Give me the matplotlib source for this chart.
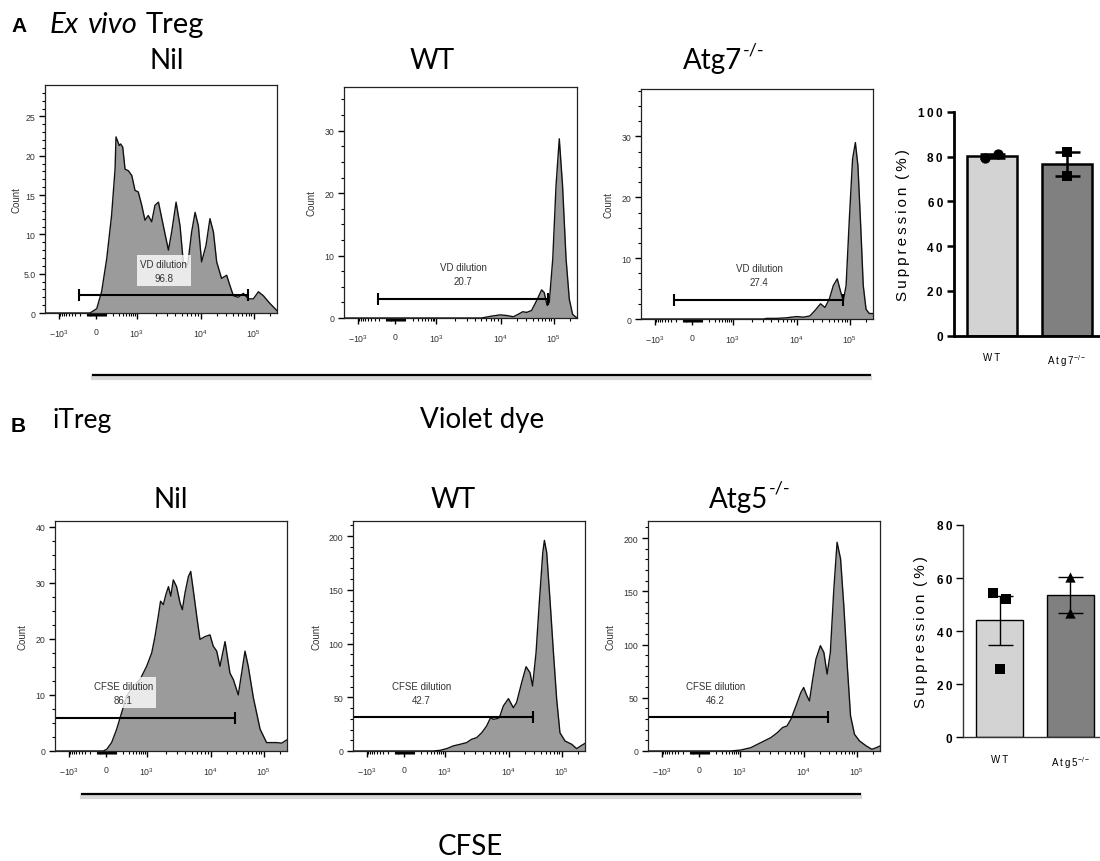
import numpy as np
import matplotlib.pyplot as plt
from matplotlib.lines import Line2D

plt.rcParams['font.family'] = ['Liberation Sans', 'DejaVu Sans']
plt.rcParams['mathtext.fontset'] = 'custom'
plt.rcParams['mathtext.rm'] = 'Liberation Sans'
plt.rcParams['mathtext.default'] = 'regular'

# ---- histogram traces: x = position along the logicle axis (0..1), y = count ----
a_nil_x = [0.0, 0.194, 0.223, 0.244, 0.266, 0.287, 0.302, 0.306, 0.320, 0.326, 0.335, 0.345, 0.359,
           0.374, 0.388, 0.402, 0.417, 0.431, 0.445, 0.460, 0.474, 0.489, 0.510, 0.532, 0.546, 0.565,
           0.582, 0.596, 0.615, 0.632, 0.647, 0.661, 0.675, 0.694, 0.711, 0.726, 0.740, 0.761, 0.783,
           0.797, 0.812, 0.833, 0.855, 0.876, 0.898, 0.920, 0.941, 0.970, 1.0]
a_nil_y = [0.0, 0.0, 0.55, 2.7, 6.9, 12.4, 18.3, 22.4, 21.3, 21.5, 21.1, 18.3, 18.1,
           17.5, 15.6, 15.4, 13.7, 11.8, 12.4, 11.6, 13.7, 14.1, 11.1, 8.0, 10.3, 14.1,
           11.1, 6.5, 6.1, 10.3, 12.8, 11.1, 6.5, 8.6, 12.0, 10.3, 6.5, 4.4, 4.8,
           3.5, 2.2, 2.0, 2.5, 1.8, 1.8, 2.7, 2.2, 1.2, 0.3]

a_wt_x = [0.0, 0.590, 0.605, 0.634, 0.670, 0.698, 0.727, 0.748, 0.767, 0.784, 0.805, 0.827, 0.848,
          0.859, 0.872, 0.881, 0.896, 0.910, 0.924, 0.938, 0.953, 0.967, 0.981, 0.996, 1.0]
a_wt_y = [0.0, 0.0, 0.1, 0.3, 0.5, 0.4, 0.2, 0.6, 1.0, 0.9, 1.2, 2.8, 4.5,
          4.1, 2.0, 2.5, 9.5, 21.2, 28.7, 21.2, 9.5, 3.0, 0.6, 0.1, 0.1]

a_ko_x = [0.0, 0.527, 0.542, 0.585, 0.628, 0.671, 0.700, 0.728, 0.750, 0.774, 0.793, 0.812, 0.829,
          0.846, 0.861, 0.872, 0.884, 0.898, 0.912, 0.924, 0.935, 0.947, 0.958, 0.970, 0.984, 1.0]
a_ko_y = [0.0, 0.0, 0.1, 0.1, 0.2, 0.4, 0.3, 0.5, 1.4, 2.5, 1.9, 3.3, 5.5,
          6.6, 4.4, 3.0, 5.5, 16.4, 26.3, 29.0, 25.2, 15.3, 5.5, 1.6, 0.9, 0.9]

b_nil_x = [0.0, 0.208, 0.223, 0.244, 0.266, 0.287, 0.309, 0.338, 0.366, 0.395, 0.417, 0.431, 0.445,
           0.455, 0.467, 0.478, 0.489, 0.499, 0.510, 0.524, 0.539, 0.549, 0.560, 0.575, 0.585, 0.596,
           0.611, 0.625, 0.647, 0.668, 0.682, 0.697, 0.711, 0.733, 0.754, 0.769, 0.790, 0.819, 0.833,
           0.855, 0.884, 0.912, 0.955, 0.977, 1.0]
b_nil_y = [0.0, 0.0, 0.3, 1.5, 3.9, 6.8, 9.8, 11.6, 12.7, 15.1, 17.5, 20.4, 24.0,
           26.7, 26.1, 27.9, 29.3, 27.6, 30.5, 29.3, 26.4, 25.2, 28.1, 31.1, 32.0, 28.7,
           24.0, 19.9, 20.4, 20.7, 18.7, 17.8, 15.1, 19.5, 13.9, 12.7, 10.0, 17.8, 15.1,
           9.5, 3.9, 1.5, 1.5, 1.4, 2.0]

b_wt_x = [0.0, 0.346, 0.375, 0.404, 0.432, 0.461, 0.490, 0.511, 0.533, 0.555, 0.576, 0.593, 0.605,
          0.619, 0.631, 0.648, 0.670, 0.691, 0.705, 0.727, 0.746, 0.763, 0.774, 0.789, 0.803, 0.818,
          0.825, 0.835, 0.849, 0.864, 0.878, 0.892, 0.914, 0.943, 0.964, 0.986, 1.0]
b_wt_y = [0.0, 0.0, 0.6, 2.2, 4.7, 6.2, 7.8, 10.9, 12.4, 17.0, 23.3, 31.0, 29.5,
          30.0, 31.0, 41.9, 48.7, 40.3, 45.0, 63.6, 78.4, 72.9, 60.5, 91.5, 138.0, 184.5,
          196.0, 184.5, 141.0, 91.5, 48.0, 17.0, 9.3, 6.2, 2.2, 5.3, 7.1]

b_ko_x = [0.0, 0.356, 0.400, 0.443, 0.486, 0.530, 0.558, 0.580, 0.599, 0.616, 0.638, 0.659, 0.671,
          0.685, 0.696, 0.710, 0.724, 0.743, 0.758, 0.772, 0.786, 0.801, 0.815, 0.830, 0.844, 0.859,
          0.873, 0.890, 0.912, 0.941, 0.965, 0.984, 1.0]
b_ko_y = [0.0, 0.0, 0.9, 3.1, 7.8, 12.6, 17.3, 22.0, 23.5, 29.8, 42.4, 55.0, 59.6,
          51.8, 47.0, 67.5, 86.3, 98.9, 92.6, 72.2, 92.6, 152.0, 196.0, 180.5, 136.5, 80.0,
          33.0, 15.7, 9.4, 4.7, 1.6, 3.1, 4.7]

# gate percentages
a_gates = ["96.8", "20.7", "27.4"]
b_gates = ["86.1", "42.7", "46.2"]

# suppression data (%)
a_wt_pts = [79.3, 81.0]
a_ko_pts = [82.0, 71.5]
b_wt_pts = [54.3, 52.2, 25.6]
b_ko_pts = [60.3, 46.7]

xtick_pos = [0.06, 0.22, 0.395, 0.672, 0.90]
xtick_lab = ['$-10^3$', '0', '$10^3$', '$10^4$', '$10^5$']


def spaced(s):
    return '\u2009'.join(s)


def minor_x():
    pos = []
    for v in list(range(10, 100, 10)) + list(range(100, 1000, 100)):
        f = np.arcsinh(v / 150) / np.arcsinh(1000 / 150)
        pos.append(0.22 + 0.175 * f)
        pos.append(0.22 - 0.16 * f)
    for k in range(2, 10):
        pos.append(0.395 + 0.277 * np.log10(k))
        pos.append(0.672 + 0.228 * np.log10(k))
        p = 0.90 + 0.228 * np.log10(k)
        if p < 1:
            pos.append(p)
    return pos


fig = plt.figure(figsize=(11, 8.62), dpi=100)


def px_rect(x0, y0, x1, y1):
    return [x0 / 1100, 1 - y1 / 862, (x1 - x0) / 1100, (y1 - y0) / 862]


def flow(rect, xs, ys, ymax, ymaj, ystep, ylab, gate, gtxt, tpos, name, count_off):
    ax = fig.add_axes(rect)
    ax.fill_between(xs, ys, color='#9b9b9b', lw=0)
    ax.plot(xs, ys, color='#111111', lw=1.0)
    ax.set_xlim(0, 1)
    ax.set_ylim(0, ymax)
    ax.set_xticks(xtick_pos)
    ax.set_xticklabels(xtick_lab)
    ax.set_xticks(minor_x(), minor=True)
    ax.set_yticks(ymaj)
    ax.set_yticklabels(ylab)
    ax.set_yticks(np.arange(0, ymax, ystep), minor=True)
    ax.tick_params(axis='both', which='major', length=4, width=1.0, labelsize=6.3,
                   labelcolor='#333333', pad=3)
    ax.tick_params(axis='both', which='minor', length=2.5, width=0.8)
    ax.tick_params(axis='x', which='major', pad=6)
    for s in ax.spines.values():
        s.set_linewidth(0.9)
        s.set_color('#222222')
    ax.text(-count_off / 232, 0.5, 'Count', rotation=90, transform=ax.transAxes,
            ha='center', va='center', fontsize=7, color='#333333')
    g0, g1, gy = gate
    ax.plot([g0, g1], [gy, gy], color='k', lw=1.5, solid_capstyle='butt')
    ax.plot([g0, g1], [gy, gy], ls='none', marker='|', ms=8, mew=1.5, color='k')
    ax.text(tpos[0], tpos[1], f"{name} dilution\n{gtxt}", ha='center', va='center',
            fontsize=7, color='#333333', linespacing=1.5,
            bbox=dict(fc='white', alpha=0.8, ec='none', pad=2.5))
    return ax


# ---- Panel A histograms ----
flow(px_rect(45, 86, 277, 314), a_nil_x, a_nil_y, 29, [0, 5, 10, 15, 20, 25],
     1, ['0', '5.0', '10', '15', '20', '25'], (0.147, 0.874, 2.3), a_gates[0], (0.512, 5.4), 'VD', 28)
flow(px_rect(344, 88, 577, 319), a_wt_x, a_wt_y, 37, [0, 10, 20, 30],
     2.5, ['0', '10', '20', '30'], (0.147, 0.877, 3.0), a_gates[1], (0.512, 7.0), 'VD', 32)
flow(px_rect(641, 90, 873, 320), a_ko_x, a_ko_y, 37.8, [0, 10, 20, 30],
     2.5, ['0', '10', '20', '30'], (0.144, 0.872, 3.2), a_gates[2], (0.509, 7.2), 'VD', 32)

# ---- Panel B histograms ----
flow(px_rect(55, 522, 287, 752), b_nil_x, b_nil_y, 41, [0, 10, 20, 30, 40],
     2.5, ['0', '10', '20', '30', '40'], (-0.05, 0.776, 5.9), b_gates[0], (0.294, 10.4), 'CFSE', 33)
flow(px_rect(353, 522, 585, 752), b_wt_x, b_wt_y, 214, [0, 50, 100, 150, 200],
     10, ['0', '50', '100', '150', '200'], (-0.05, 0.775, 31.6), b_gates[1], (0.296, 54), 'CFSE', 36)
flow(px_rect(648, 522, 880, 752), b_ko_x, b_ko_y, 216, [0, 50, 100, 150, 200],
     10, ['0', '50', '100', '150', '200'], (-0.05, 0.775, 32), b_gates[2], (0.291, 54.5), 'CFSE', 37)


# ---- bar charts ----
def bars(rect, wt, ko, ymax, yt, xlim, marks, jit, ko_name, heavy):
    ax = fig.add_axes(rect)
    means = [np.mean(wt), np.mean(ko)]
    sems = [np.std(wt, ddof=1) / np.sqrt(len(wt)), np.std(ko, ddof=1) / np.sqrt(len(ko))]
    lw = 1.8 if heavy else 1.0
    ax.bar([0, 1], means, width=0.67, color=['#d3d3d3', '#808080'], edgecolor='k',
           linewidth=lw, zorder=1)
    ax.errorbar([0, 1], means, yerr=sems, fmt='none', ecolor='k', elinewidth=lw,
                capsize=9, capthick=lw, zorder=2)
    ax.scatter(np.array(jit[0]), wt, marker=marks[0], s=55, color='k', zorder=3, lw=0)
    ax.scatter(np.array(jit[1]), ko, marker=marks[1], s=55, color='k', zorder=3, lw=0)
    ax.set_xlim(*xlim)
    ax.set_ylim(0, ymax)
    ax.set_yticks(yt)
    ax.set_yticklabels([spaced(str(v)) for v in yt], fontweight='bold', fontsize=8.5)
    ax.set_xticks([0, 1])
    ax.set_xticklabels([spaced('WT'), spaced('Atg') + '\u2009' + ko_name + '$^{-/-}$'], fontsize=7)
    ax.tick_params(axis='x', length=0, pad=12)
    ax.tick_params(axis='y', length=5, width=lw, pad=3)
    for s in ['top', 'right']:
        ax.spines[s].set_visible(False)
    for s in ['left', 'bottom']:
        ax.spines[s].set_linewidth(2.0 if heavy else 1.0)
        ax.spines[s].set_color('k' if heavy else '#333333')
    ax.set_ylabel(spaced('Suppression') + '\u2002' + spaced('(%)'), fontsize=11, labelpad=6)
    return ax


bars(px_rect(954, 112.7, 1100, 336.7), a_wt_pts, a_ko_pts, 100, [0, 20, 40, 60, 80, 100],
     (-0.504, 1.443), ('o', 's'), ([-0.09, 0.083], [1, 1]), '7', True)
bars(px_rect(963.3, 526, 1100, 738.3), b_wt_pts, b_ko_pts, 80, [0, 20, 40, 60, 80],
     (-0.511, 1.418), ('s', '^'), ([-0.096, 0.087, 0.0], [1, 1]), '5', False)


# ---- figure text ----
def ft(x, y, s, **kw):
    fig.text(x / 1100, 1 - y / 862, s, **kw)


title_font = ['Lato', 'DejaVu Sans']
ft(11, 32, 'A', fontsize=15, fontweight='bold', va='baseline')
ft(50, 33, 'Ex', fontsize=21, style='italic', family=title_font, va='baseline')
ft(88, 33, 'vivo', fontsize=21, style='italic', family=title_font, va='baseline')
ft(146, 33, 'Treg', fontsize=21, family=title_font, va='baseline')
ft(11, 432, 'B', fontsize=15, fontweight='bold', va='baseline')
ft(52, 428, 'iTreg', fontsize=19, family=title_font, va='baseline')

ft(167, 69, 'Nil', fontsize=20, family=title_font, ha='center', va='baseline')
ft(432, 69, 'WT', fontsize=20, family=title_font, ha='center', va='baseline')
ft(742, 69, 'Atg7', fontsize=20, family=title_font, ha='right', va='baseline')
ft(743, 55, '-/-', fontsize=13, family=title_font, ha='left', va='baseline')

ft(171, 508, 'Nil', fontsize=20, family=title_font, ha='center', va='baseline')
ft(453, 508, 'WT', fontsize=20, family=title_font, ha='center', va='baseline')
ft(768, 508, 'Atg5', fontsize=20, family=title_font, ha='right', va='baseline')
ft(769, 494, '-/-', fontsize=13, family=title_font, ha='left', va='baseline')

ft(482, 428, 'Violet dye', fontsize=20, family=title_font, ha='center', va='baseline')
ft(470, 855, 'CFSE', fontsize=20, family=title_font, ha='center', va='baseline')

# divider lines under the flow plots, with a soft shadow
for x0, x1, y in [(93, 870, 376), (82, 860, 795)]:
    fig.add_artist(Line2D([x0 / 1100, x1 / 1100], [1 - (y + 3) / 862] * 2, color='#d8d8d8', lw=3))
    fig.add_artist(Line2D([x0 / 1100, x1 / 1100], [1 - y / 862] * 2, color='k', lw=1.6))

fig.savefig('out.png', dpi=100)
